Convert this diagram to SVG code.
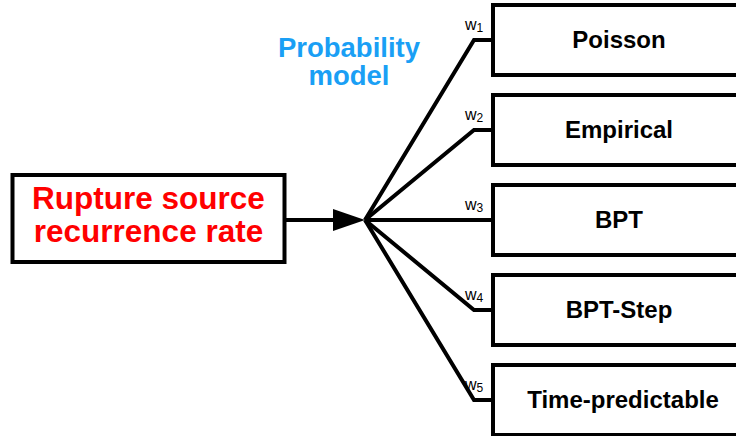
<svg xmlns="http://www.w3.org/2000/svg" width="736" height="436" viewBox="0 0 736 436">
<style>
.box{fill:#fff;stroke:#000;stroke-width:4}
.lbl{font-family:"Liberation Sans",Arial,sans-serif;font-weight:bold;font-size:24px;text-anchor:middle;fill:#000}
.w{font-family:"Liberation Sans",Arial,sans-serif;font-size:16px;fill:#000}
.sub{font-size:12px}
.ln{stroke:#000;stroke-width:4;fill:none;stroke-linejoin:miter}
</style>
<rect width="736" height="436" fill="#fff"/>
<g id="source">
<rect class="box" x="12.5" y="175" width="272" height="87" stroke-width="3.5"/>
<text font-family="'Liberation Sans',Arial,sans-serif" font-weight="bold" font-size="31.5" fill="#ff0000" text-anchor="middle"><tspan x="148.5" y="209">Rupture source</tspan><tspan x="148.5" y="242">recurrence rate</tspan></text>
</g>
<g id="prob-label">
<text font-family="'Liberation Sans',Arial,sans-serif" font-weight="bold" font-size="27.5" fill="#1a9ff5" text-anchor="middle"><tspan x="349" y="57">Probability</tspan><tspan x="349" y="85">model</tspan></text>
</g>
<g id="connectors">
<line class="ln" x1="284.5" y1="220" x2="340" y2="220"/>
<polygon points="333,209 365,220 333,231" fill="#000"/>
<polyline class="ln" points="365,220 474,40 493,40"/>
<polyline class="ln" points="365,220 474,130 493,130"/>
<polyline class="ln" points="365,220 493,220"/>
<polyline class="ln" points="365,220 474,310 493,310"/>
<polyline class="ln" points="365,220 474,400 493,400"/>
<text class="w" x="465" y="29.5">w<tspan class="sub" dy="2.5">1</tspan></text>
<text class="w" x="465" y="119.5">w<tspan class="sub" dy="2.5">2</tspan></text>
<text class="w" x="465" y="209.5">w<tspan class="sub" dy="2.5">3</tspan></text>
<text class="w" x="465" y="299.5">w<tspan class="sub" dy="2.5">4</tspan></text>
<text class="w" x="465" y="389.5">w<tspan class="sub" dy="2.5">5</tspan></text>
</g>
<g id="poisson"><rect class="box" x="493" y="5" width="260" height="70"/><text class="lbl" x="619" y="48">Poisson</text></g>
<g id="empirical"><rect class="box" x="493" y="95" width="260" height="70"/><text class="lbl" x="619" y="138">Empirical</text></g>
<g id="bpt"><rect class="box" x="493" y="185" width="260" height="70"/><text class="lbl" x="619" y="228">BPT</text></g>
<g id="bpt-step"><rect class="box" x="493" y="275" width="260" height="70"/><text class="lbl" x="619" y="318">BPT-Step</text></g>
<g id="time-predictable"><rect class="box" x="493" y="365" width="260" height="70"/><text class="lbl" x="623" y="408">Time-predictable</text></g>
</svg>
